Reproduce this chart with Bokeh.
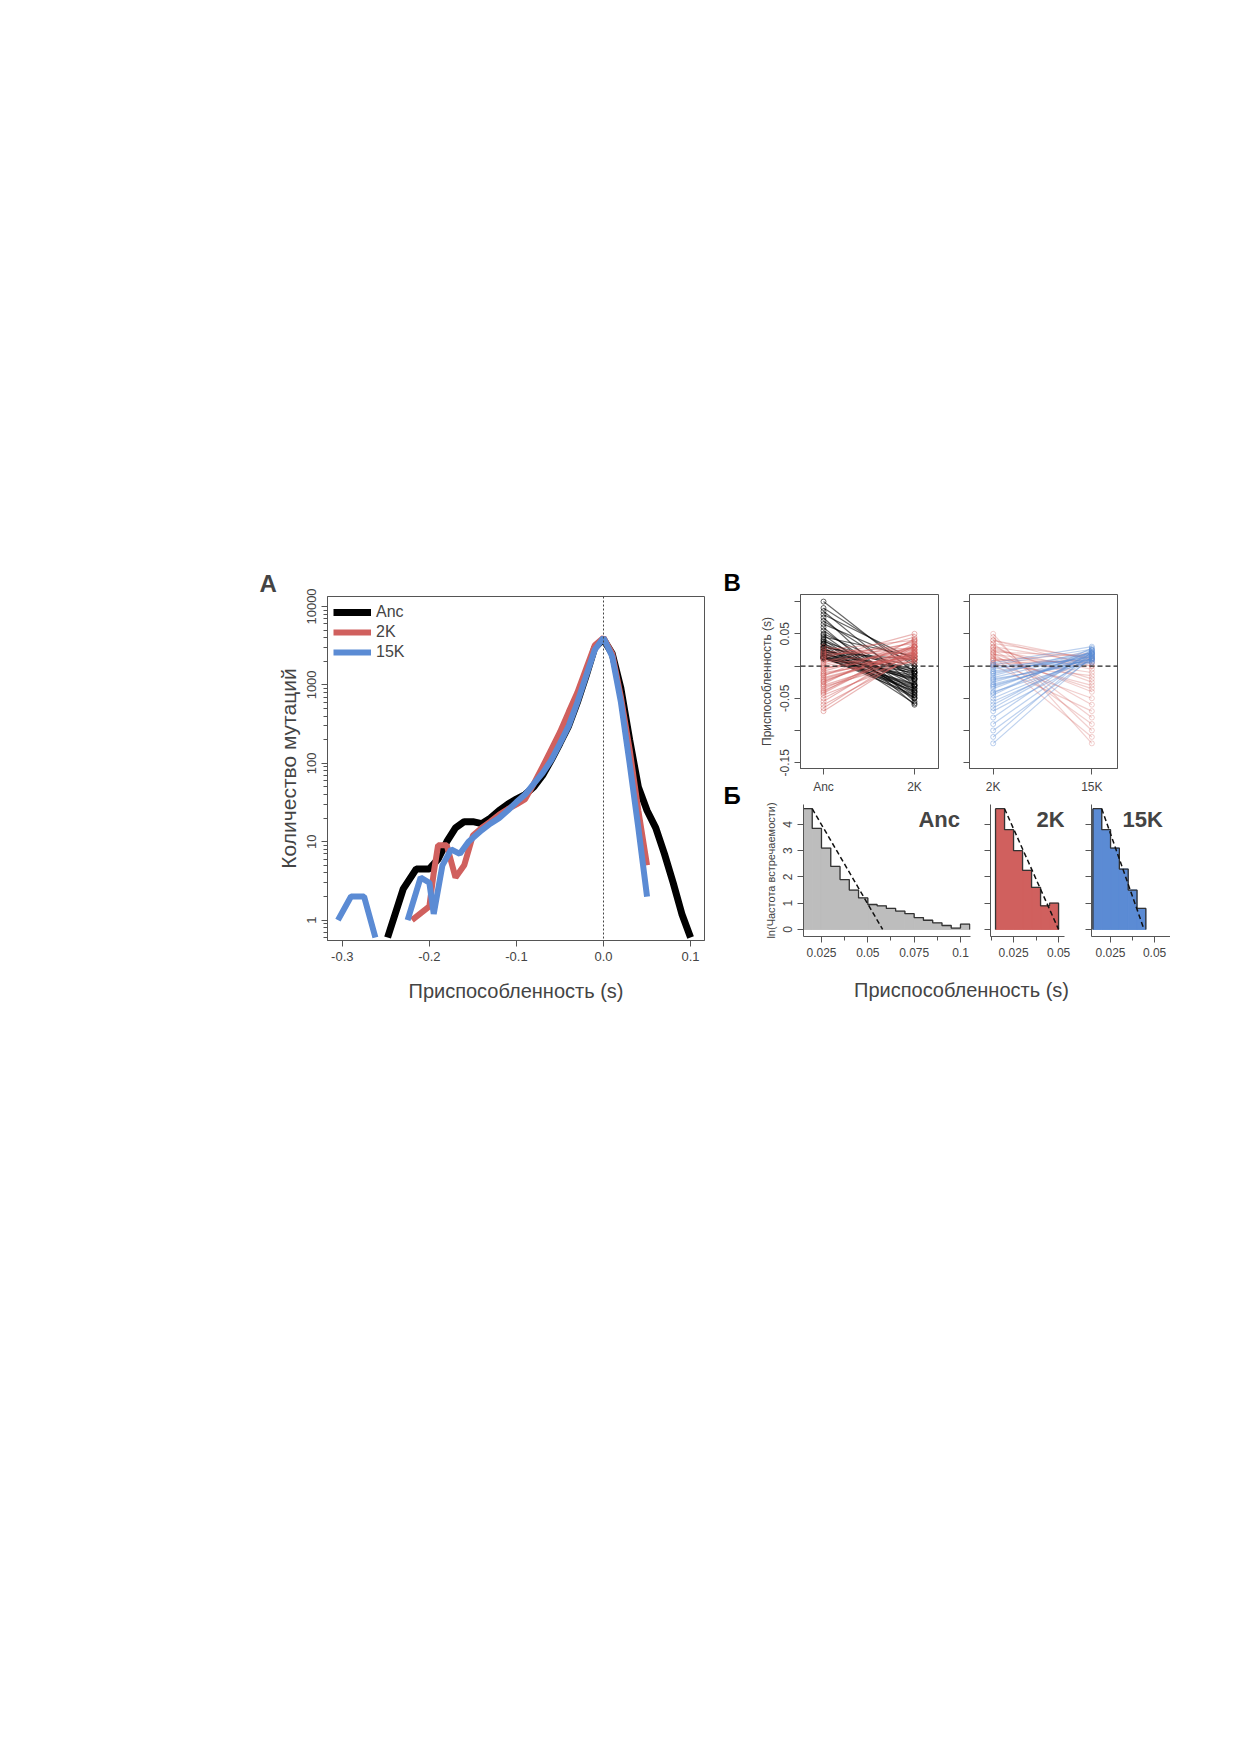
import numpy as np
from bokeh.plotting import figure
from bokeh.layouts import row, column
from bokeh.models import Spacer, Span, Label, FixedTicker, LogTicker, Legend, LegendItem, Title
from bokeh.core.properties import value
from bokeh.embed import file_html
from bokeh.resources import INLINE

FONT = "Liberation Sans"
BLACK, RED, BLUE = "#000000", "#d0605e", "#5b8bd4"

# ---------- Panel A data ----------
anc_x = [-0.248,-0.23,-0.215,-0.2,-0.19,-0.18,-0.17,-0.16,-0.15,-0.14,-0.13,-0.12,-0.11,-0.1,-0.09,-0.08,-0.07,-0.06,-0.05,-0.04,-0.03,-0.02,-0.01,0.0,0.01,0.02,0.03,0.04,0.05,0.06,0.07,0.08,0.09,0.1]
anc_y = [0.6,2.5,4.5,4.5,6,10,15,18,18,17,20,25,30,35,40,50,70,110,180,300,600,1300,3000,3800,2500,900,200,50,25,15,7,3,1.2,0.6]
k2_x = [-0.22,-0.2,-0.195,-0.19,-0.18,-0.17,-0.16,-0.15,-0.14,-0.13,-0.12,-0.11,-0.1,-0.09,-0.08,-0.07,-0.06,-0.05,-0.04,-0.03,-0.02,-0.01,0.0,0.01,0.02,0.03,0.04,0.05]
k2_y = [1.0,1.5,4,9,9,3.5,5,12,15,18,22,26,30,35,55,90,150,250,450,800,1600,3200,4000,2500,700,150,25,5]
k15_x = [-0.305,-0.29,-0.275,-0.262,np.nan,-0.225,-0.21,-0.2,-0.195,-0.185,-0.175,-0.165,-0.155,-0.14,-0.13,-0.12,-0.11,-0.1,-0.09,-0.08,-0.07,-0.06,-0.05,-0.04,-0.03,-0.02,-0.01,0.0,0.01,0.02,0.03,0.04,0.05]
k15_y = [1,2,2,0.6,np.nan,1,3.5,3,1.2,5,8,7,10,14,17,20,25,32,40,55,75,110,180,300,600,1300,2800,4000,2300,600,100,15,2]
a_xticks = [-0.3, -0.2, -0.1, 0.0, 0.1]
a_yticks = [1, 10, 100, 1000, 10000]

# ---------- Panel B data ----------
b1_anc_black = [0.10,0.09,0.085,0.08,0.075,0.07,0.065,0.06,0.055,0.05,0.048,0.045,0.042,0.04,0.038,0.035,0.033,0.03,0.028,0.026,0.024,0.022,0.02,0.018,0.016,0.015,0.014,0.013,0.012,0.011,0.03,0.025,0.02,0.015,0.012,0.035,0.028,0.022,0.018,0.013]
b1_2k_black = [-0.01,0.0,-0.03,0.01,-0.055,-0.02,0.005,-0.06,-0.04,-0.015,-0.05,0.015,-0.03,-0.045,-0.01,-0.025,-0.058,0.0,-0.035,-0.02,-0.05,0.01,-0.04,-0.005,-0.03,-0.015,-0.045,-0.02,-0.035,-0.01,-0.005,-0.012,-0.022,-0.028,-0.038,-0.042,-0.048,-0.008,-0.018,-0.032]
b1_anc_red = [0.03,0.025,0.02,0.015,0.01,0.005,0.0,-0.005,-0.01,-0.015,-0.02,-0.025,-0.03,-0.035,-0.04,-0.045,-0.05,-0.055,-0.06,-0.065,-0.07,0.012,-0.008,-0.018,-0.028,-0.038,0.022,0.002,-0.012,-0.042,0.008,-0.002,-0.022,-0.032,0.018,-0.003,-0.014,-0.024]
b1_2k_red = [0.01,0.04,0.02,0.035,0.015,0.045,0.025,0.03,0.012,0.04,0.02,0.03,0.015,0.025,0.035,0.01,0.02,0.03,0.015,0.025,0.02,0.05,0.03,0.018,0.042,0.022,0.028,0.038,0.016,0.032,0.005,0.012,0.02,0.008,0.026,0.014,0.022,0.03]
b2_2k_red = [0.05,0.045,0.04,0.035,0.03,0.028,0.025,0.022,0.02,0.018,0.015,0.012,0.01,0.008,0.005,0.003,0.002,0.001,0.04,0.03,0.02,0.01,0.025,0.015,0.035]
b2_15k_red = [-0.12,-0.1,0.01,-0.08,0.005,-0.02,-0.06,0.015,-0.04,0.0,-0.11,-0.01,-0.03,0.02,-0.05,0.01,-0.015,-0.07,0.0,-0.025,-0.09,0.005,-0.005,-0.035,0.012]
b2_2k_blue = [0.0,-0.005,-0.01,-0.015,-0.02,-0.025,-0.03,-0.035,-0.04,-0.045,-0.05,-0.06,-0.07,-0.08,-0.09,-0.1,-0.11,-0.12,0.005,-0.012,-0.022,-0.032,-0.042,-0.055,-0.065,-0.002,-0.008,-0.018,0.002,-0.028]
b2_15k_blue = [0.01,0.02,0.015,0.025,0.005,0.018,0.012,0.022,0.008,0.028,0.015,0.02,0.01,0.025,0.018,0.012,0.022,0.015,0.03,0.02,0.01,0.016,0.024,0.012,0.02,0.006,0.014,0.019,0.026,0.011]
b_yticks = [0.1, 0.05, 0.0, -0.05, -0.1, -0.15]

# ---------- Panel Б data ----------
bin_w = 0.005
anc_start, anc_ln = 0.015, [4.6,3.85,3.1,2.4,1.9,1.5,1.2,0.95,0.9,0.8,0.7,0.6,0.45,0.35,0.25,0.15,0.05,0.2]
k2_start, k2_ln = 0.015, [4.6,3.8,3.0,2.25,1.6,0.9,1.0]
k15_start, k15_ln = 0.015, [4.6,3.8,3.1,2.3,1.5,0.8]
anc_fit = ([0.02,0.058],[4.6,0.0])
k2_fit = ([0.02,0.05],[4.6,0.0])
k15_fit = ([0.02,0.044],[4.6,0.0])

panel_letters = ["B", "Б"]


def style(p, tick_size="12px"):
    p.grid.visible = False
    p.outline_line_color = "#555555"
    for ax in p.axis:
        ax.major_label_text_font = FONT
        ax.major_label_text_font_size = tick_size
        ax.axis_label_text_font = FONT
        ax.axis_label_text_font_style = "normal"
        ax.axis_line_color = "#555555"
        ax.major_tick_line_color = "#555555"
        ax.minor_tick_line_color = "#555555"
        ax.major_tick_out = 6
        ax.major_tick_in = 0
        ax.minor_tick_in = 0
    p.background_fill_color = None
    p.border_fill_color = None


# ---------- Panel A ----------
pA = figure(width=470, height=445, x_range=(-0.317, 0.116), y_range=(0.55, 13400),
            y_axis_type="log", output_backend="svg", toolbar_location=None,
            min_border_left=77, min_border_right=16, min_border_top=30, min_border_bottom=71)
style(pA, "13px")
pA.title = Title(text="A", align="left", offset=-68, standoff=0, text_font=FONT,
                 text_font_size="24px", text_font_style="bold")
pA.yaxis.ticker = LogTicker(num_minor_ticks=10)
pA.yaxis.major_label_overrides = {t: str(t) for t in a_yticks}
pA.yaxis.major_label_orientation = "vertical"
pA.xaxis.ticker = FixedTicker(ticks=a_xticks)
pA.xaxis.major_label_overrides = {t: f"{t:.1f}" for t in a_xticks}
pA.yaxis.axis_label = "Количество мутаций"
pA.yaxis.axis_label_text_font_size = "21px"
pA.xaxis.axis_label = "Приспособленность (s)"
pA.xaxis.axis_label_text_font_size = "20px"
pA.xaxis.axis_label_standoff = 16
pA.add_layout(Span(location=0, dimension="height", line_dash="2 2", line_color="#444444", line_width=1))
rA = pA.line(anc_x, anc_y, line_color=BLACK, line_width=7)
r2 = pA.line(k2_x, k2_y, line_color=RED, line_width=6)
r15 = pA.line(k15_x, k15_y, line_color=BLUE, line_width=6)
leg = Legend(items=[LegendItem(label="Anc", renderers=[rA]), LegendItem(label="2K", renderers=[r2]),
                    LegendItem(label="15K", renderers=[r15])],
             location="top_left", border_line_color=None, background_fill_alpha=0,
             label_text_font=FONT, label_text_font_size="16px", glyph_width=38,
             spacing=-4, padding=4, margin=6)
pA.add_layout(leg)

# ---------- letters column for B / Б ----------
pLet = figure(width=30, height=405, x_range=(0, 30), y_range=(0, 405), output_backend="svg",
              toolbar_location=None, min_border=0)
pLet.axis.visible = False
pLet.grid.visible = False
pLet.outline_line_color = None
pLet.background_fill_color = None
pLet.border_fill_color = None
pLet.text(x=[3, 3], y=[389, 176], text=panel_letters, text_font=value(FONT), text_font_style="bold",
          text_font_size="24px", text_baseline="middle")

# ---------- Panel B ----------
def pairs(p, a, b, color, alpha):
    xs = [[0, 1] for _ in a]
    ys = [[u, v] for u, v in zip(a, b)]
    p.multi_line(xs, ys, line_color=color, line_alpha=alpha, line_width=1.2)
    p.scatter([0]*len(a), a, marker="circle", fill_color=None, line_color=color, line_alpha=alpha, size=5)
    p.scatter([1]*len(b), b, marker="circle", fill_color=None, line_color=color, line_alpha=alpha, size=5)

pB1 = figure(width=200, height=230, x_range=(-0.253, 1.264), y_range=(-0.159, 0.111),
             output_backend="svg", toolbar_location=None,
             min_border_left=50, min_border_right=12, min_border_top=28, min_border_bottom=26)
style(pB1)
pB1.yaxis.ticker = FixedTicker(ticks=b_yticks)
pB1.yaxis.major_label_overrides = {0.1: "", 0.05: "0.05", 0.0: "", -0.05: "-0.05", -0.1: "", -0.15: "-0.15"}
pB1.yaxis.major_label_orientation = "vertical"
pB1.yaxis.axis_label = "Приспособленность (s)"
pB1.yaxis.axis_label_text_font_size = "12px"
pB1.yaxis.axis_label_standoff = 4
pB1.xaxis.ticker = FixedTicker(ticks=[0, 1])
pB1.xaxis.major_label_overrides = {0: "Anc", 1: "2K"}
pairs(pB1, b1_anc_black, b1_2k_black, BLACK, 0.6)
pairs(pB1, b1_anc_red, b1_2k_red, RED, 0.45)
pB1.add_layout(Span(location=0, dimension="width", line_dash="5 3", line_color="#222222", line_width=1.2))

pB2 = figure(width=182, height=230, x_range=(-0.24, 1.26), y_range=(-0.159, 0.111),
             output_backend="svg", toolbar_location=None,
             min_border_left=19, min_border_right=15, min_border_top=28, min_border_bottom=26)
style(pB2)
pB2.yaxis.ticker = FixedTicker(ticks=b_yticks)
pB2.yaxis.major_label_overrides = {t: "" for t in b_yticks}
pB2.xaxis.ticker = FixedTicker(ticks=[0, 1])
pB2.xaxis.major_label_overrides = {0: "2K", 1: "15K"}
pairs(pB2, b2_2k_red, b2_15k_red, RED, 0.3)
pairs(pB2, b2_2k_blue, b2_15k_blue, BLUE, 0.4)
pB2.add_layout(Span(location=0, dimension="width", line_dash="5 3", line_color="#222222", line_width=1.2))

# ---------- Panel Б ----------
def hist_panel(w, lb, rb, xr, start, vals, fill, fit, name, name_x, xt, ylab=False):
    p = figure(width=w, height=175, x_range=xr, y_range=(-0.27, 4.76),
               output_backend="svg", toolbar_location=None,
               min_border_left=lb, min_border_right=rb, min_border_top=8, min_border_bottom=35)
    style(p)
    p.outline_line_color = None
    left = [start + i*bin_w for i in range(len(vals))]
    right = [l + bin_w for l in left]
    p.quad(left=left, right=right, bottom=0, top=vals, fill_color=fill, line_color=fill, line_width=1)
    sx = [left[0]] + right + [right[-1]]
    sy = [vals[0]] + vals + [0]
    p.step(sx, sy, mode="before", line_color="#333333", line_width=1.3)
    p.line([left[0], left[0]], [0, vals[0]], line_color="#333333", line_width=1.3)
    p.line(fit[0], fit[1], line_dash="5 3", line_color="#111111", line_width=1.5)
    p.yaxis.ticker = FixedTicker(ticks=[0, 1, 2, 3, 4])
    p.yaxis.major_label_orientation = "vertical"
    if not ylab:
        p.yaxis.major_label_overrides = {t: "" for t in [0, 1, 2, 3, 4]}
    else:
        p.yaxis.axis_label = "ln(Частота встречаемости)"
        p.yaxis.axis_label_text_font_size = "11px"
        p.yaxis.axis_label_standoff = 4
    p.xaxis.ticker = FixedTicker(ticks=xt, minor_ticks=[t + 0.0125 for t in [0.0] + xt])
    p.xaxis.major_label_overrides = {t: f"{t:g}" for t in xt}
    p.xaxis.minor_tick_out = 4
    p.add_layout(Label(x=name_x, y=3.7, text=name, text_align="center", text_font=FONT,
                       text_font_style="bold", text_font_size="22px"))
    return p

pH1 = hist_panel(230, 53, 10, (0.0153, 0.1054), anc_start, anc_ln, "#bdbdbd", anc_fit, "Anc", 0.0885,
                 [0.025, 0.05, 0.075, 0.1], ylab=True)
pH2 = hist_panel(101, 10, 17, (0.0122, 0.0533), k2_start, k2_ln, RED, k2_fit, "2K", 0.0455, [0.025, 0.05])
pH3 = hist_panel(89, 10, 0, (0.0142, 0.059), k15_start, k15_ln, BLUE, k15_fit, "15K", 0.0432, [0.025, 0.05])

pL = figure(width=450, height=40, x_range=(0, 450), y_range=(0, 40), output_backend="svg",
            toolbar_location=None, min_border=0)
pL.axis.visible = False
pL.grid.visible = False
pL.outline_line_color = None
pL.add_layout(Label(x=241, y=22, text="Приспособленность (s)", text_align="center",
                    text_baseline="middle", text_font=FONT, text_font_size="20px"))

right = row(pLet, column(row(pB1, pB2), row(pH1, pH2, pH3)))
layout = column(Spacer(height=566, width=10),
                row(Spacer(width=250, height=10), pA, column(right, pL)))

open("out.html", "w").write(file_html(layout, INLINE))
